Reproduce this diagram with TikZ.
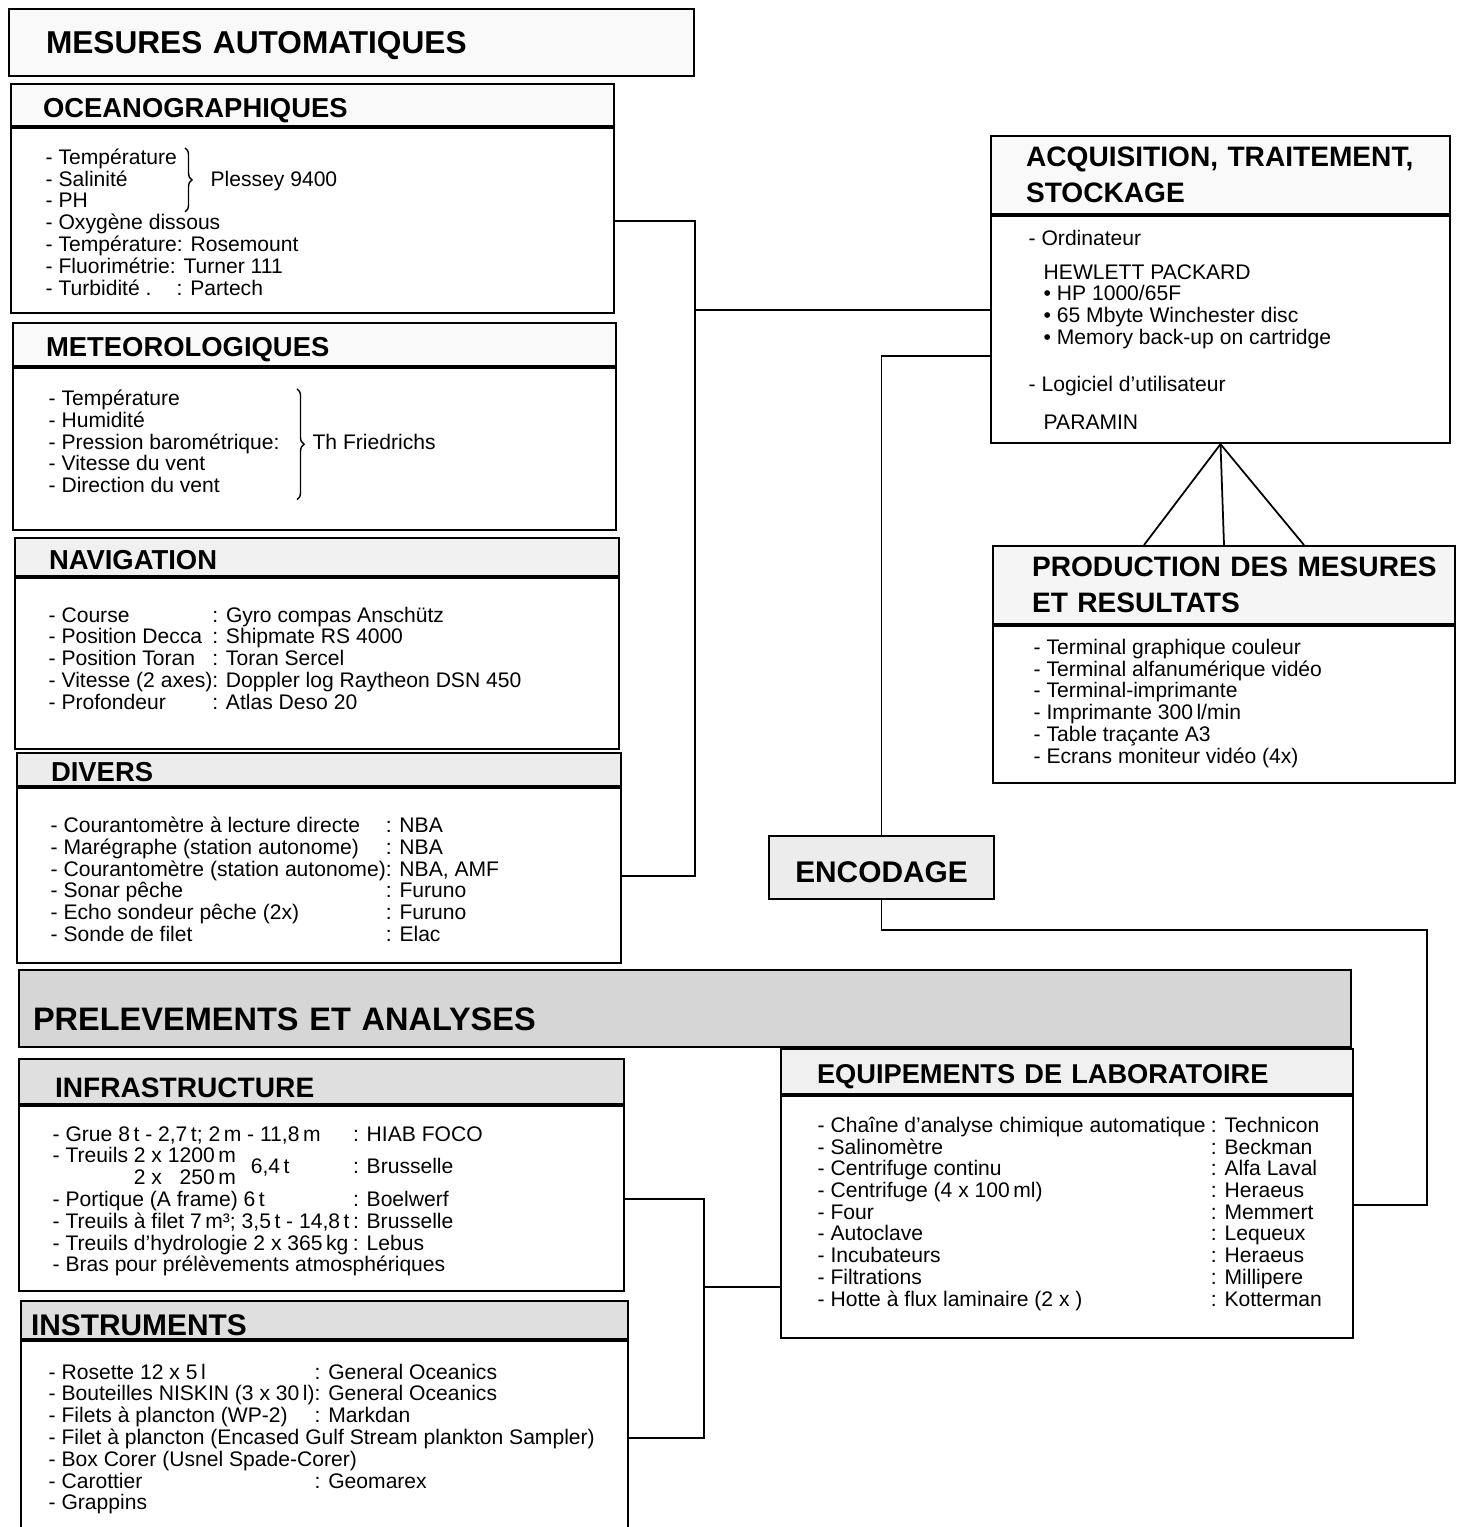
\documentclass[tikz,border=0pt]{standalone}
\usepackage{fontspec}
\setmainfont{Liberation Sans}
\usetikzlibrary{decorations.pathreplacing}

\newcommand{\padto}[2]{\makebox[#1][l]{#2}}

\tikzset{
        hdr/.style={draw, rectangle, line width=1.2pt, fill=#1, anchor=north west, align=left, inner ysep=0pt, font=\bfseries\fontsize{15.6}{20.5}\selectfont},
        hdr/.default=gray!5,
        onerow/.style={text height=14pt, text depth=0pt},
        bodybox/.style={draw, rectangle, line width=1.2pt, anchor=north west, inner sep=0pt},
        bodytext/.style={anchor=base west, inner sep=0pt, font=\fontsize{12}{12.24}\selectfont},
        wire/.style={line width=1pt},
        curly/.style={decorate, decoration={brace, amplitude=4pt}, line width=0.8pt}
}

\begin{document}
\begin{tikzpicture}[x=0.02cm, y=-0.02cm, thick]
        \useasboundingbox (0,0) rectangle (1463,1527);

        \node (mesures) [hdr, onerow, text height=13pt, inner xsep=0.74cm, text width=12.22cm, minimum height=1.34cm, font=\bfseries\fontsize{18}{21}\selectfont] at (8,8) {MESURES AUTOMATIQUES};

        \node (ocehead) [hdr, onerow, inner xsep=0.64cm, text width=10.78cm, minimum height=0.84cm] at (10,83) {OCEANOGRAPHIQUES};
        \node (ocebody) [bodybox, minimum width=12.06cm, minimum height=3.70cm] at (ocehead.south west) {};
        \node (ocetext) [bodytext] at ([shift={(35,37)}]ocebody.north west) {\begin{tabular}[t]{@{}l@{}}
                - Température\\
                \padto{3.3cm}{- Salinité}Plessey 9400\\
                - PH\\
                - Oxygène dissous\\
                - Température: Rosemount\\
                - Fluorimétrie: Turner 111\\
                \padto{2.62cm}{- Turbidité .}: Partech
        \end{tabular}};
        \draw[curly] ([shift={(140,0)}]ocetext.north west) -- ([shift={(140,64)}]ocetext.north west);

        \node (methead) [hdr, onerow, inner xsep=0.66cm, text width=10.74cm, minimum height=0.86cm] at (12,322) {METEOROLOGIQUES};
        \node (metbody) [bodybox, minimum width=12.06cm, minimum height=3.24cm] at (methead.south west) {};
        \node (mettext) [bodytext] at ([shift={(36,38)}]metbody.north west) {\begin{tabular}[t]{@{}l@{}}
                - Température\\
                - Humidité\\
                \padto{5.28cm}{- Pression barométrique:}Th Friedrichs\\
                - Vitesse du vent\\
                - Direction du vent
        \end{tabular}};
        \draw[curly] ([shift={(249,0)}]mettext.north west) -- ([shift={(249,0)}]mettext.south west);

        \node (navhead) [hdr=gray!12, onerow, inner xsep=0.68cm, text width=10.72cm, minimum height=0.76cm] at (14,537) {NAVIGATION};
        \node (navbody) [bodybox, minimum width=12.08cm, minimum height=3.42cm] at (navhead.south west) {};
        \node (navtext) [bodytext] at ([shift={(34,45)}]navbody.north west) {\begin{tabular}[t]{@{}l@{}l@{}}
                - Course & : Gyro compas Anschütz\\
                - Position Decca & : Shipmate RS 4000\\
                - Position Toran & : Toran Sercel\\
                - Vitesse (2 axes)& : Doppler log Raytheon DSN 450\\
                - Profondeur & : Atlas Deso 20
        \end{tabular}};

        \node (divhead) [hdr=gray!15, onerow, inner xsep=0.68cm, text width=10.72cm, minimum height=0.66cm] at (16,752) {DIVERS};
        \node (divbody) [bodybox, minimum width=12.08cm, minimum height=3.50cm] at (divhead.south west) {};
        \node (divtext) [bodytext] at ([shift={(34,45)}]divbody.north west) {\begin{tabular}[t]{@{}l@{}l@{}}
                - Courantomètre à lecture directe & : NBA\\
                - Marégraphe (station autonome) & : NBA\\
                - Courantomètre (station autonome)& : NBA, AMF\\
                - Sonar pêche & : Furuno\\
                - Echo sondeur pêche (2x) & : Furuno\\
                - Sonde de filet & : Elac
        \end{tabular}};

        \node (acqhead) [hdr, inner xsep=0.70cm, text width=7.78cm, minimum height=1.56cm, font=\bfseries\fontsize{16}{20.5}\selectfont] at (990,135) {\mbox{ACQUISITION, TRAITEMENT,}\\STOCKAGE};
        \node (acqbody) [bodybox, minimum width=9.18cm, minimum height=4.54cm] at (acqhead.south west) {};
        \node (acqtext) [bodytext] at ([shift={(38,30)}]acqbody.north west) {\begin{tabular}[t]{@{}l@{}}
                - Ordinateur\\[0.25cm]
                \hspace{0.3cm}HEWLETT PACKARD\\
                \hspace{0.3cm}• HP 1000/65F\\
                \hspace{0.3cm}• 65 Mbyte Winchester disc\\
                \hspace{0.3cm}• Memory back-up on cartridge\\[0.51cm]
                - Logiciel d'utilisateur\\[0.33cm]
                \hspace{0.3cm}PARAMIN
        \end{tabular}};

        \node (prodhead) [hdr=gray!8, inner xsep=0.78cm, text width=7.68cm, minimum height=1.56cm, font=\bfseries\fontsize{16}{20.5}\selectfont] at (992,545) {\mbox{PRODUCTION DES MESURES}\\ET RESULTATS};
        \node (prodbody) [bodybox, minimum width=9.24cm, minimum height=3.14cm] at (prodhead.south west) {};
        \node (prodtext) [bodytext] at ([shift={(41,29)}]prodbody.north west) {\begin{tabular}[t]{@{}l@{}}
                - Terminal graphique couleur\\
                - Terminal alfanumérique vidéo\\
                - Terminal-imprimante\\
                - Imprimante 300\,l/min\\
                - Table traçante A3\\
                - Ecrans moniteur vidéo (4x)
        \end{tabular}};

        \node (encode) [draw, line width=1.2pt, fill=gray!15, anchor=north west, minimum width=4.5cm, minimum height=1.26cm, inner sep=0pt, text height=17pt, text depth=0pt, font=\bfseries\fontsize{17}{20}\selectfont] at (768,835) {ENCODAGE};

        \node (prelev) [hdr=gray!32, text height=25pt, text depth=0pt, inner xsep=0.28cm, text width=26.08cm, minimum height=1.54cm, font=\bfseries\fontsize{18.5}{22}\selectfont] at (18,969) {PRELEVEMENTS ET ANALYSES};

        \node (infhead) [hdr=gray!25, text height=18pt, text depth=0pt, inner xsep=0.72cm, text width=10.66cm, minimum height=0.90cm, font=\bfseries\fontsize{16}{20}\selectfont] at (18,1058) {INFRASTRUCTURE};
        \node (infbody) [bodybox, minimum width=12.10cm, minimum height=3.70cm] at (infhead.south west) {};
        \node (inftext) [bodytext] at ([shift={(34,36)}]infbody.north west) {\begin{tabular}[t]{@{}l@{\hspace{2pt}}l@{}}
                - Grue 8\,t - 2,7\,t; 2\,m - 11,8\,m & : HIAB FOCO\\
                - Treuils 2 x 1200\,m\rlap{\raisebox{-6.1pt}[0pt][0pt]{\hspace{0.3cm}6,4\,t}} & \raisebox{-6.1pt}[0pt][0pt]{: Brusselle}\\
                \phantom{- Treuils }2 x \phantom{1}250\,m & \\
                - Portique (A frame) 6\,t & : Boelwerf\\
                - Treuils à filet 7\,m³; 3,5\,t - 14,8\,t & : Brusselle\\
                - Treuils d'hydrologie 2 x 365\,kg & : Lebus\\
                \multicolumn{2}{@{}l@{}}{- Bras pour prélèvements atmosphériques}
        \end{tabular}};

        \node (inshead) [hdr=gray!25, text height=18pt, text depth=0pt, inner xsep=0.2cm, text width=11.74cm, minimum height=0.76cm, font=\bfseries\fontsize{17}{20}\selectfont] at (20,1300) {INSTRUMENTS};
        \node (insbody) [bodybox, minimum width=12.14cm, minimum height=3.88cm] at (inshead.south west) {};
        \node (instext) [bodytext] at ([shift={(28,39)}]insbody.north west) {\begin{tabular}[t]{@{}l@{}l@{}}
                - Rosette 12 x 5\,l & : General Oceanics\\
                - Bouteilles NISKIN (3 x 30\,l)& : General Oceanics\\
                - Filets à plancton (WP-2) & : Markdan\\
                \multicolumn{2}{@{}l@{}}{- Filet à plancton (Encased Gulf Stream plankton Sampler)}\\
                \multicolumn{2}{@{}l@{}}{- Box Corer (Usnel Spade-Corer)}\\
                - Carottier & : Geomarex\\
                - Grappins &
        \end{tabular}};

        \node (eqhead) [hdr=gray!12, onerow, inner xsep=0.72cm, text width=10.0cm, minimum height=0.90cm, font=\bfseries\fontsize{15.5}{20}\selectfont] at (780,1048) {EQUIPEMENTS DE LABORATOIRE};
        \node (eqbody) [bodybox, minimum width=11.44cm, minimum height=4.84cm] at (eqhead.south west) {};
        \node (eqtext) [bodytext] at ([shift={(37,37)}]eqbody.north west) {\begin{tabular}[t]{@{}l@{\hspace{3pt}}l@{}}
                - Chaîne d'analyse chimique automatique & : Technicon\\
                - Salinomètre & : Beckman\\
                - Centrifuge continu & : Alfa Laval\\
                - Centrifuge (4 x 100\,ml) & : Heraeus\\
                - Four & : Memmert\\
                - Autoclave & : Lequeux\\
                - Incubateurs & : Heraeus\\
                - Filtrations & : Millipere\\
                - Hotte à flux laminaire (2 x ) & : Kotterman
        \end{tabular}};

        \coordinate (spine) at (695,310);
        \draw[wire] (ocebody.east) -| (spine) |- (divbody.east);
        \draw[wire] (spine) -- (spine -| acqbody.west);
        \draw[wire] ([yshift=-0.53cm]acqbody.west) -| (encode.north);
        \coordinate (loop) at (1427,930);
        \draw[wire] (encode.south) |- (loop) |- ([yshift=0.24cm]eqbody.east);
        \draw[wire] (acqbody.south) -- ([xshift=-1.6cm]prodhead.north);
        \draw[wire] (acqbody.south) -- (prodhead.north);
        \draw[wire] (acqbody.south) -- ([xshift=1.6cm]prodhead.north);
        \coordinate (spine2) at (704,1287);
        \draw[wire] (infbody.east) -| (spine2) |- (insbody.east);
        \draw[wire] (spine2) -- (spine2 -| eqbody.west);
\end{tikzpicture}
\end{document}
